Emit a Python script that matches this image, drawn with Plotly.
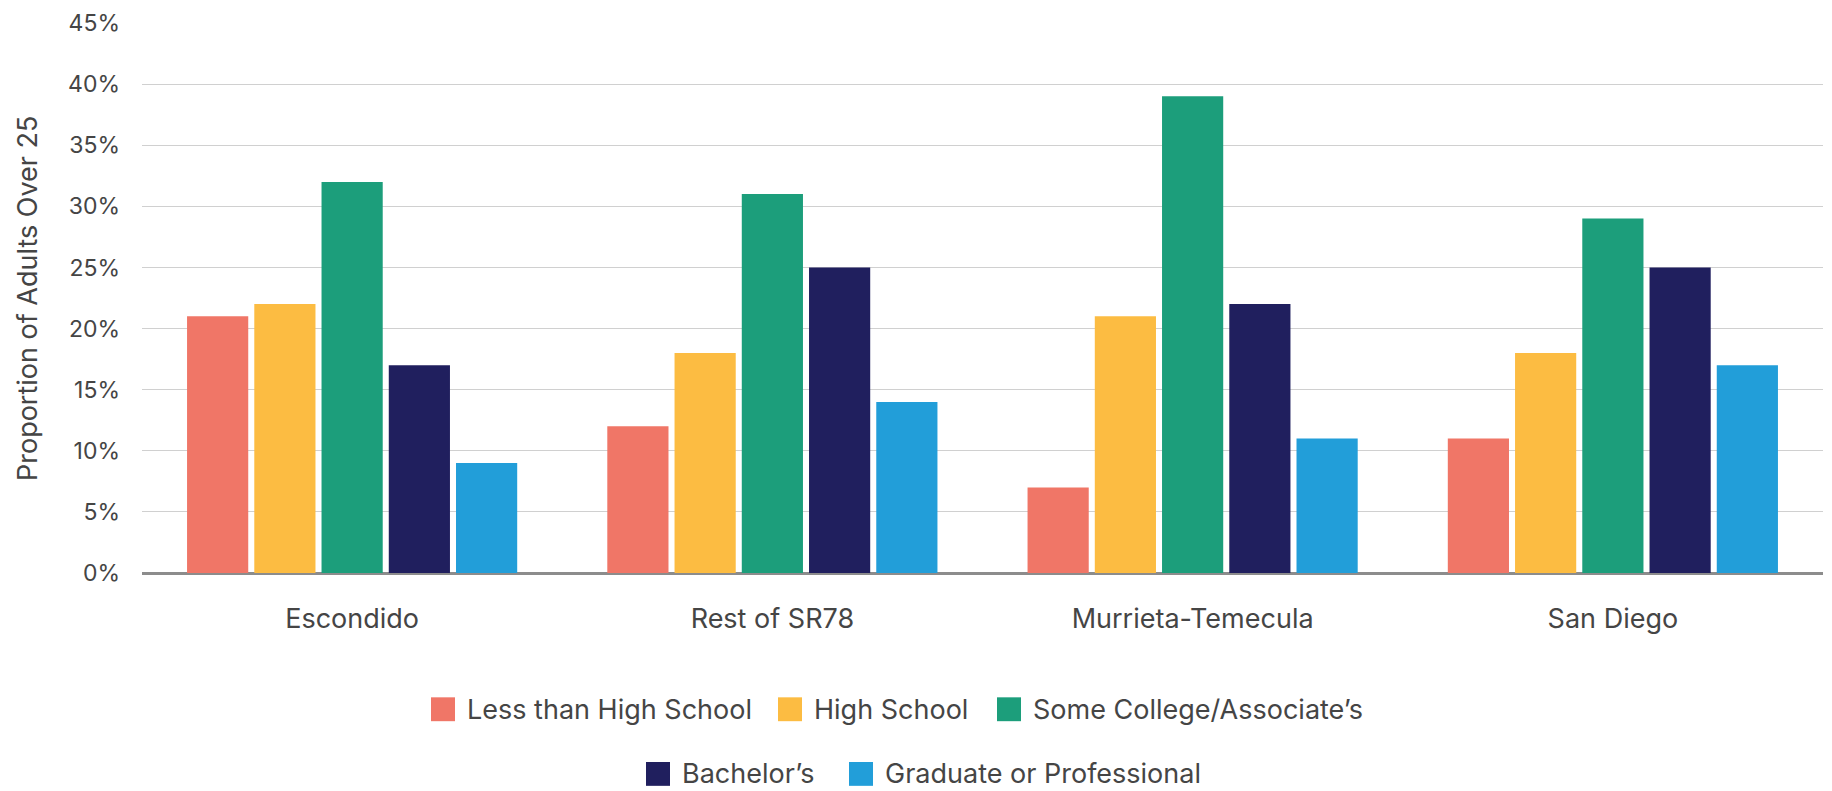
import plotly.graph_objects as go

# Educational attainment of adults over 25, by region (percent)
regions = ["Escondido", "Rest of SR78", "Murrieta-Temecula", "San Diego"]
levels = [
    "Less than High School",
    "High School",
    "Some College/Associate\u2019s",
    "Bachelor\u2019s",
    "Graduate or Professional",
]
less_than_hs = [21, 12, 7, 11]
high_school = [22, 18, 21, 18]
some_college = [32, 31, 39, 29]
bachelors = [17, 25, 22, 25]
graduate = [9, 14, 11, 17]
series = [less_than_hs, high_school, some_college, bachelors, graduate]

colors = ["#F07667", "#FCBC42", "#1C9E7B", "#201F5E", "#229ED9"]

y_ticks = [0, 5, 10, 15, 20, 25, 30, 35, 40, 45]
y_tick_labels = [f"{v}%" for v in y_ticks]

FONT = "Inter"
TEXT_COLOR = "#454545"

W, H = 1832, 791
ML, MR, MT, MB = 142, 9, 20, 218
PW, PH = W - ML - MR, H - MT - MB

fig = go.Figure()
for name, vals, col in zip(levels, series, colors):
    fig.add_trace(go.Bar(
        x=regions, y=vals, name=name,
        marker=dict(color=col, line=dict(width=0)),
        showlegend=False,
    ))

# Legend drawn as swatches + labels (two centred rows)
legend_rows = [
    [(0, 431), (1, 778), (2, 997)],
    [(3, 646), (4, 849)],
]
row_y = [710, 775]
shapes = []
annotations = []
SW = 24


def px_x(px):
    return (px - ML) / PW


def px_y(py):
    return (H - MB - py) / PH


for row, cy in zip(legend_rows, row_y):
    for idx, left in row:
        shapes.append(dict(
            type="rect", xref="paper", yref="paper",
            x0=px_x(left), x1=px_x(left + SW),
            y0=px_y(cy + SW / 2), y1=px_y(cy - SW / 2),
            fillcolor=colors[idx], line=dict(width=0), layer="above",
        ))
        annotations.append(dict(
            text=levels[idx], xref="paper", yref="paper",
            x=px_x(left + SW + 10), y=px_y(cy),
            xanchor="left", yanchor="middle", showarrow=False,
            font=dict(family=FONT, size=27, color=TEXT_COLOR),
        ))

annotations.append(dict(
    text="Proportion of Adults Over 25", xref="paper", yref="paper",
    x=0, y=0.5, xshift=27 - ML, xanchor="center", yanchor="middle",
    textangle=-90, showarrow=False,
    font=dict(family=FONT, size=27, color=TEXT_COLOR),
))

fig.update_layout(
    width=W, height=H,
    margin=dict(l=ML, r=MR, t=MT, b=MB, pad=0),
    paper_bgcolor="white", plot_bgcolor="white",
    barmode="group", bargap=0.2, bargroupgap=0.09,
    font=dict(family=FONT, color=TEXT_COLOR),
    shapes=shapes, annotations=annotations,
    xaxis=dict(
        showgrid=False, showline=False, zeroline=False,
        ticks="", ticklabelstandoff=27,
        tickfont=dict(family=FONT, size=27, color=TEXT_COLOR),
    ),
    yaxis=dict(
        range=[0, 45], tickmode="array",
        tickvals=y_ticks, ticktext=y_tick_labels,
        showgrid=True, gridcolor="#D0D0D0", gridwidth=1.3,
        zeroline=True, zerolinecolor="#8C8C8C", zerolinewidth=2.5,
        showline=False, ticks="", ticklabelstandoff=21,
        tickfont=dict(family=FONT, size=23, color=TEXT_COLOR),
    ),
)

fig.write_html("out.html")
